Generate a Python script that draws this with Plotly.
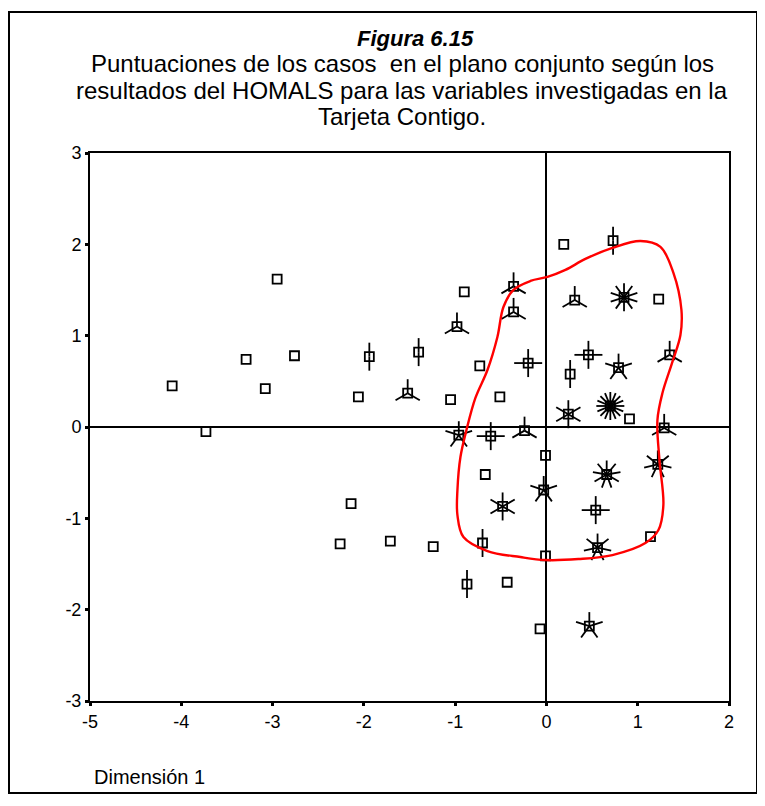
import math
import plotly.graph_objects as go

# ---------------- data ----------------
case_x = [-4.10, -3.73, -3.29, -3.08, -2.95, -2.76, -2.06, -1.94, -2.14, -2.26,
          -1.71, -1.52, -1.40, -1.05, -1.24, -0.98, -0.90, -0.36, -0.36, -0.73,
          -0.20, -0.51, -0.96, -0.61, -0.24, -0.01, 0.24, 0.26, 0.46, 0.79,
          0.70, 0.91, 1.35, 1.29, 1.22, 0.66, 0.54, 0.56, 1.14, 0.47,
          -0.67, -0.48, -0.03, -0.70, -0.01, -0.87, -0.43, -0.07, 0.19, 0.73,
          0.31, 0.85, 1.23]
case_y = [0.45, -0.05, 0.74, 0.42, 1.62, 0.78, 0.33, 0.77, -0.84, -1.28,
          -1.25, 0.37, 0.82, 0.30, -1.31, 1.10, 1.48, 1.54, 1.26, 0.67,
          0.70, 0.33, -0.09, -0.10, -0.04, -0.31, 0.14, 0.58, 0.79, 0.65,
          0.23, 0.09, 0.79, -0.01, -0.41, -0.52, -0.91, -1.32, -1.20, -2.18,
          -0.52, -0.87, -0.69, -1.27, -1.41, -1.72, -1.70, -2.21, 2.00, 2.04,
          1.39, 1.42, 1.40]
case_count = [1, 1, 1, 1, 1, 1, 1, 2, 1, 1,
              1, 3, 2, 1, 1, 3, 1, 3, 3, 1,
              4, 1, 5, 4, 3, 1, 6, 2, 4, 5,
              16, 1, 3, 3, 7, 9, 4, 7, 1, 5,
              1, 6, 5, 2, 1, 2, 1, 1, 1, 2,
              3, 10, 1]

# hand-drawn red contour (data coordinates)
curve_x = [-0.537, -0.471, -0.361, -0.175, 0.011, 0.208, 0.427, 0.723, 1.030, 1.249,
           1.391, 1.479, 1.468, 1.380, 1.271, 1.216, 1.238, 1.281, 1.227, 1.084,
           0.723, 0.350, -0.011, -0.285, -0.646, -0.909, -0.975, -0.975, -0.942, -0.876,
           -0.778, -0.646, -0.537]
curve_y = [0.986, 1.314, 1.501, 1.599, 1.643, 1.720, 1.840, 1.961, 2.037, 1.972,
           1.687, 1.281, 1.008, 0.712, 0.372, 0.077, -0.361, -0.854, -1.128, -1.271,
           -1.402, -1.446, -1.457, -1.424, -1.358, -1.205, -0.964, -0.690, -0.329, -0.033,
           0.318, 0.624, 0.986]

x_ticks = [-5, -4, -3, -2, -1, 0, 1, 2]
x_tick_text = ["-5", "-4", "-3", "-2", "-1", "0", "1", "2"]
y_ticks = [-3, -2, -1, 0, 1, 2, 3]
y_tick_text = ["-3", "-2", "-1", "0", "1", "2", "3"]
x_range = [-5, 2]
y_range = [-3, 3]

title_main = "<b><i>Figura 6.15</i></b>"
title_lines = ["Puntuaciones de los casos  en el plano conjunto según los",
               "resultados del HOMALS para las variables investigadas en la",
               "Tarjeta Contigo."]
x_label = "Dimensión 1"

# ---------------- layout geometry (window pixels) ----------------
WIN_W, WIN_H = 765, 806
OFF = 8                       # page body margin
PL, PR, PT, PB = 90, 729, 153, 701   # plot area in window pixels
W, H = WIN_W - OFF, WIN_H - OFF
ML, MT = PL - OFF, PT - OFF
plot_w, plot_h = PR - PL, PB - PT
MR = W - ML - plot_w
MB = H - MT - plot_h
ux = plot_w / (x_range[1] - x_range[0])   # px per data unit
uy = plot_h / (y_range[1] - y_range[0])

def px_to_paper(px, py):
    return (px - PL) / plot_w, (PB - py) / plot_h

FONT = "Liberation Sans, Arial"

# sunflower petals
PETAL = 14  # px
px_seg, py_seg = [], []
for x, y, n in zip(case_x, case_y, case_count):
    if n < 2:
        continue
    for k in range(n):
        a = math.pi / 2 + 2 * math.pi * k / n
        px_seg += [x, x + PETAL * math.cos(a) / ux, None]
        py_seg += [y, y + PETAL * math.sin(a) / uy, None]

fig = go.Figure()
fig.add_trace(go.Scatter(x=px_seg, y=py_seg, mode="lines",
                         line=dict(color="black", width=1.8),
                         hoverinfo="skip", showlegend=False))
fig.add_trace(go.Scatter(x=case_x, y=case_y, mode="markers",
                         marker=dict(symbol="square-open", size=9, color="black",
                                     line=dict(width=1.8, color="black")),
                         showlegend=False))
fig.add_trace(go.Scatter(x=curve_x, y=curve_y, mode="lines",
                         line=dict(color="#ff0000", width=2.4, shape="spline", smoothing=1.0),
                         hoverinfo="skip", showlegend=False))

axis_common = dict(showline=True, linecolor="black", linewidth=2, mirror=True,
                   showgrid=False, zeroline=True, zerolinecolor="black", zerolinewidth=1.5,
                   ticks="outside", ticklen=3, tickwidth=3, tickcolor="black",
                   tickfont=dict(family=FONT, size=18, color="black"))
fig.update_xaxes(range=x_range, tickvals=x_ticks, ticktext=x_tick_text, **axis_common)
fig.update_yaxes(range=y_range, tickvals=y_ticks, ticktext=y_tick_text, **axis_common)

annotations = []
ax, ay = px_to_paper(415, 38)
annotations.append(dict(x=ax, y=ay, xref="paper", yref="paper", text=title_main,
                        showarrow=False, xanchor="center", yanchor="middle",
                        font=dict(family=FONT, size=22, color="black")))
for i, line in enumerate(title_lines):
    ax, ay = px_to_paper(402, 64 + 26 * i)
    annotations.append(dict(x=ax, y=ay, xref="paper", yref="paper", text=line,
                            showarrow=False, xanchor="center", yanchor="middle",
                            font=dict(family=FONT, size=24, color="black")))
ax, ay = px_to_paper(92, 777)
annotations.append(dict(x=ax, y=ay, xref="paper", yref="paper", text=x_label,
                        showarrow=False, xanchor="left", yanchor="middle",
                        font=dict(family=FONT, size=20, color="black")))

x0, y0 = px_to_paper(9, 793)
x1, y1 = px_to_paper(757, 12)
shapes = [dict(type="rect", xref="paper", yref="paper", x0=x0, y0=y0, x1=x1, y1=y1,
               line=dict(color="black", width=2), fillcolor="rgba(0,0,0,0)", layer="below")]

fig.update_layout(width=W, height=H, margin=dict(l=ML, r=MR, t=MT, b=MB),
                  paper_bgcolor="white", plot_bgcolor="white",
                  annotations=annotations, shapes=shapes, showlegend=False)

fig.write_html("out.html")
